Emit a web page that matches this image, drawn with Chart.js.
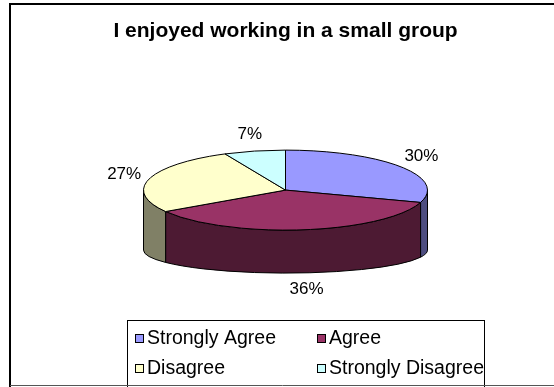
<!DOCTYPE html>
<html>
<head>
<meta charset="utf-8">
<script src="https://cdn.jsdelivr.net/npm/chart.js@4.4.1/dist/chart.umd.min.js"></script>
<style>
    html, body { margin: 0; padding: 0; background: #ffffff; }
    #wrap { position: relative; width: 554px; height: 387px; }
</style>
</head>
<body>
<div id="wrap"><canvas id="chart" width="554" height="387"></canvas></div>
<script>
const categories = ["Strongly Agree", "Agree", "Disagree", "Strongly Disagree"];
const responses = [30, 36, 27, 7];
const topColors = ["#9999FF", "#993366", "#FFFFCC", "#CCFFFF"];
const sideColors = ["#4D4D80", "#4D1A33", "#808066", "#668080"];

const FONT = "'Liberation Sans', Arial, Helvetica, sans-serif";
const TILT = 40 / 142;      // top ellipse ry / rx
const BOTTOM_DROP = 60;     // bottom ellipse centre offset
const BOTTOM_TILT = 23 / 142;

function percentText(chart, i) {
    const data = chart.data.datasets[0].data;
    const total = data.reduce((a, b) => a + b, 0);
    return Math.round((data[i] / total) * 100) + "%";
}

// Excel-like 3D pie: the arcs come from Chart.js, we only squash and extrude them
const pie3d = {
    id: "pie3d",
    beforeDatasetsDraw(chart) {
        const ctx = chart.ctx;
        const arcs = chart.getDatasetMeta(0).data;

        ctx.save();
        ctx.lineWidth = 1;
        ctx.strokeStyle = "#000000";
        ctx.lineJoin = "round";

        // front walls first
        arcs.forEach((arc, i) => {
            const { x, y, startAngle, endAngle, outerRadius } = arc.getProps(
                ["x", "y", "startAngle", "endAngle", "outerRadius"], true);
            const a1 = Math.max(startAngle, 0);
            const a2 = Math.min(endAngle, Math.PI);
            if (a1 >= a2) return;
            const ry = outerRadius * TILT;
            const ryb = outerRadius * BOTTOM_TILT;
            ctx.beginPath();
            ctx.ellipse(x, y, outerRadius, ry, 0, a1, a2);
            ctx.ellipse(x, y + BOTTOM_DROP, outerRadius, ryb, 0, a2, a1, true);
            ctx.closePath();
            ctx.fillStyle = sideColors[i];
            ctx.fill();
            ctx.stroke();
        });

        // top faces
        arcs.forEach((arc, i) => {
            const { x, y, startAngle, endAngle, outerRadius } = arc.getProps(
                ["x", "y", "startAngle", "endAngle", "outerRadius"], true);
            ctx.beginPath();
            ctx.moveTo(x, y);
            ctx.ellipse(x, y, outerRadius, outerRadius * TILT, 0, startAngle, endAngle);
            ctx.closePath();
            ctx.fillStyle = topColors[i];
            ctx.fill();
            ctx.stroke();
        });

        // percentage labels
        ctx.font = "17px " + FONT;
        ctx.fillStyle = "#000000";
        ctx.textAlign = "center";
        ctx.textBaseline = "middle";
        const gap = 9;
        arcs.forEach((arc, i) => {
            const { x, y, startAngle, endAngle, outerRadius } = arc.getProps(
                ["x", "y", "startAngle", "endAngle", "outerRadius"], true);
            const mid = (startAngle + endAngle) / 2;
            const c = Math.cos(mid);
            const s = Math.sin(mid);
            const text = percentText(chart, i);
            const w = ctx.measureText(text).width;
            let lx = x + (outerRadius + gap) * c + c * w / 2;
            let ly;
            if (s > 0) {
                ly = y + BOTTOM_DROP + (outerRadius * BOTTOM_TILT + gap) * s + s * 8;
            } else {
                ly = y + (outerRadius * TILT + gap) * s + s * 8;
            }
            ctx.fillText(text, lx, ly);
        });

        ctx.restore();
        return false;
    },
    afterDraw(chart) {
        const ctx = chart.ctx;
        const labels = chart.data.labels;
        ctx.save();

        // legend box, cut off by the frame at the bottom
        ctx.strokeStyle = "#000000";
        ctx.lineWidth = 1;
        ctx.strokeRect(127.5, 320.5, 357, 80);

        const cols = [135, 317];
        const rows = [338, 368];
        ctx.font = "19.5px " + FONT;
        ctx.textAlign = "left";
        ctx.textBaseline = "middle";
        labels.forEach((label, i) => {
            const sx = cols[i % 2];
            const sy = rows[Math.floor(i / 2)];
            ctx.fillStyle = topColors[i];
            ctx.fillRect(sx, sy - 4, 8, 8);
            ctx.strokeRect(sx + 0.5, sy - 3.5, 8, 8);
            ctx.fillStyle = "#000000";
            ctx.fillText(label, sx + 12, sy + 1);
        });

        // outer frame (right side runs off the picture)
        ctx.lineWidth = 2;
        ctx.beginPath();
        ctx.moveTo(10, 387);
        ctx.lineTo(10, 4);
        ctx.lineTo(560, 4);
        ctx.stroke();
        ctx.lineWidth = 1;
        ctx.strokeStyle = "#555555";
        ctx.beginPath();
        ctx.moveTo(10, 385.5);
        ctx.lineTo(560, 385.5);
        ctx.stroke();

        ctx.restore();
    },
};

Chart.defaults.font.family = FONT;

new Chart(document.getElementById("chart"), {
    type: "pie",
    data: {
        labels: categories,
        datasets: [
            {
                data: responses,
                backgroundColor: topColors,
                borderWidth: 0,
            },
        ],
    },
    options: {
        responsive: false,
        animation: false,
        radius: 142,
        layout: {
            // horizontal padding only shifts the centre; the radius is fixed above
            padding: { top: 0, left: 17, right: 0, bottom: 55 },
        },
        plugins: {
            title: {
                display: true,
                text: "I enjoyed working in a small group",
                color: "#000000",
                font: { size: 21, weight: "bold", family: FONT },
                padding: { top: 19, bottom: 4 },
            },
            legend: { display: false },
            tooltip: { enabled: false },
        },
    },
    plugins: [pie3d],
});
</script>
</body>
</html>
